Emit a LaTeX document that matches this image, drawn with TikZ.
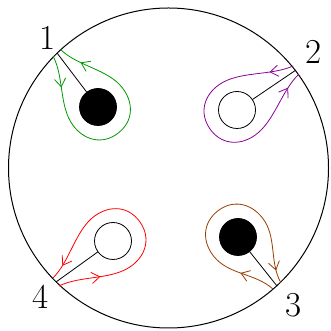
\documentclass[tikz,border=0pt]{standalone}
\usetikzlibrary{decorations.markings}
\definecolor{cgreen}{RGB}{0,150,0}
\definecolor{cpurple}{RGB}{140,0,150}
\definecolor{cbrown}{RGB}{150,60,0}
\definecolor{cred}{RGB}{255,0,0}
\newcommand{\mytip}{\draw[line width=0.8pt, line cap=round, line join=round]
  (-8pt,5.5pt) .. controls (-4pt,1.8pt) .. (0pt,0pt) .. controls (-4pt,-1.8pt) .. (-8pt,-5.5pt);}
\tikzset{
  loopline/.style={line width=0.8pt, line join=round},
  arr/.style 2 args={postaction={decorate}, decoration={markings,
      mark=at position #1 with {\mytip},
      mark=at position #2 with {\mytip}}},
  blackdisk/.style={circle, fill=black, draw=black, line width=0.8pt, inner sep=0pt, minimum size=37pt},
  whitedisk/.style={circle, fill=white, draw=black, line width=0.8pt, inner sep=0pt, minimum size=37pt},
  stem/.style={line width=0.8pt},
  lab/.style={font=\fontsize{35}{42}\selectfont, inner sep=0pt}
}
% #1 centre, #2 angle, #3 side (+1/-1), #4 L, #5 colour, #6 first arrow pos, #7 second arrow pos
\newcommand{\mytear}[7]{%
  \begin{scope}[shift={#1}, rotate=#2, yscale=#3, color=#5]
    \draw[loopline,arr={#6}{#7}]
      (-#4,5) .. controls (-#4+24,9) and (-24,31) .. (0,31)
      .. controls (19,31) and (33,19) .. (33,0)
      .. controls (33,-19) and (19,-31) .. (0,-31)
      .. controls (-24,-31) and (-#4+24,-9) .. (-#4,-5);
  \end{scope}}
\begin{document}
\begin{tikzpicture}[x=1pt,y=1pt]
\useasboundingbox (0,0) rectangle (331,331);
\node[circle, draw=black, line width=1pt, minimum size=320pt, inner sep=0pt] (big) at (168.5,163) {};

% loops
\mytear{(98,224)}{-52.8}{-1}{67.8}{cgreen}{32pt}{-24pt}
\mytear{(237,221)}{214.1}{-1}{71.3}{cpurple}{24pt}{-18pt}
\mytear{(238,94)}{128.5}{1}{62.6}{cbrown}{36pt}{-14pt}
\mytear{(113,90)}{35.7}{-1}{70.2}{cred}{42pt}{-16pt}

% disks
\node[blackdisk] (d1) at (98,224) {};
\node[whitedisk] (d2) at (237,221) {};
\node[blackdisk] (d3) at (238,94) {};
\node[whitedisk] (d4) at (113,90) {};

% boundary points
\coordinate (p1) at (57,278);
\coordinate (p2) at (296,261);
\coordinate (p3) at (277,45);
\coordinate (p4) at (56,49);

\draw[stem] (p1) -- (d1);
\draw[stem] (p2) -- (d2);
\draw[stem] (p3) -- (d3);
\draw[stem] (p4) -- (d4);

% labels
\node[lab] (l1) at (48,293) {1};
\node[lab] (l2) at (314,279) {2};
\node[lab] (l3) at (294,26) {3};
\node[lab] (l4) at (41,34) {4};
\end{tikzpicture}
\end{document}
